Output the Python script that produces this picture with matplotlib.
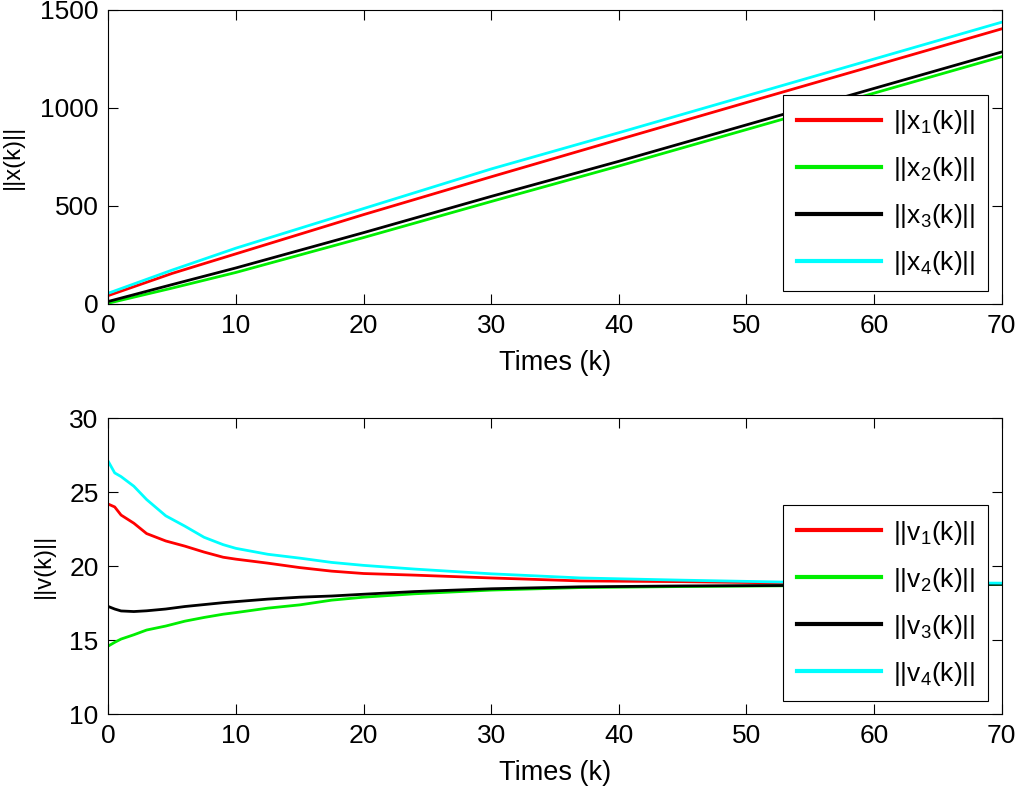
import matplotlib
matplotlib.use("Agg")
import matplotlib.pyplot as plt

plt.rcParams['font.family'] = ['Liberation Sans', 'DejaVu Sans']
plt.rcParams['mathtext.fontset'] = 'custom'
plt.rcParams['mathtext.rm'] = 'Liberation Sans'
plt.rcParams['mathtext.it'] = 'Liberation Sans'

# posiciones ||x_i(k)||
k_x = [0, 5, 10, 20, 30, 40, 50, 60, 70]
x1 = [42, 155, 255, 455, 648, 838, 1027, 1215, 1403]
x2 = [3, 80, 160, 338, 522, 703, 889, 1075, 1261]
x3 = [12, 98, 183, 363, 548, 727, 913, 1099, 1285]
x4 = [54, 172, 284, 486, 688, 873, 1061, 1249, 1437]

# velocidades ||v_i(k)||
k_v = [0, 0.5, 1, 2, 3, 4.5, 6, 7.5, 9, 10, 12.5, 15, 17.5, 20, 24, 30, 37, 45, 53, 60, 70]
v1 = [24.19, 24.0, 23.45, 22.9, 22.2, 21.7, 21.35, 20.95, 20.6, 20.47, 20.2, 19.9,
      19.66, 19.5, 19.39, 19.2, 19.0, 18.95, 18.86, 18.84, 18.82]
v2 = [14.6, 14.85, 15.07, 15.36, 15.68, 15.95, 16.28, 16.53, 16.75, 16.86, 17.16, 17.38,
      17.7, 17.9, 18.13, 18.38, 18.55, 18.62, 18.67, 18.72, 18.77]
v3 = [17.27, 17.1, 16.97, 16.93, 16.98, 17.1, 17.27, 17.4, 17.53, 17.6, 17.77, 17.9,
      17.98, 18.1, 18.28, 18.47, 18.6, 18.66, 18.69, 18.73, 18.77]
v4 = [27.07, 26.3, 26.05, 25.4, 24.5, 23.4, 22.7, 21.95, 21.45, 21.2, 20.8, 20.54,
      20.25, 20.05, 19.8, 19.48, 19.2, 19.05, 18.92, 18.88, 18.85]

colores = ['#ff0000', '#00ee00', '#000000', '#00ffff']
FS = 19

fig = plt.figure(figsize=(10.17, 7.86), dpi=100)
ax1 = fig.add_axes([0.1065, 0.6135, 0.8785, 0.374])
ax2 = fig.add_axes([0.1065, 0.0915, 0.8785, 0.3765])


def estilo(ax):
    ax.set_xlim(0, 70)
    ax.set_xticks(range(0, 71, 10))
    ax.tick_params(direction='in', top=True, right=True, length=7, width=0.8,
                   labelsize=FS, pad=7)
    for s in ax.spines.values():
        s.set_linewidth(0.8)
    ax.set_xlabel('Times (k)', fontsize=19.5, labelpad=9)


for serie, c, n in zip([x1, x2, x3, x4], colores, range(1, 5)):
    ax1.plot(k_x, serie, color=c, lw=2, label='||x$_%d$(k)||' % n)
ax1.set_ylim(0, 1500)
ax1.set_yticks([0, 500, 1000, 1500])
estilo(ax1)
ax1.set_ylabel('||x(k)||', fontsize=17)
ax1.yaxis.set_label_coords(-0.094, 0.5)

for serie, c, n in zip([v1, v2, v3, v4], colores, range(1, 5)):
    ax2.plot(k_v, serie, color=c, lw=2, label='||v$_%d$(k)||' % n)
ax2.set_ylim(10, 30)
ax2.set_yticks([10, 15, 20, 25, 30])
estilo(ax2)
ax2.set_ylabel('||v(k)||', fontsize=17)
ax2.yaxis.set_label_coords(-0.06, 0.5)

for ax in (ax1, ax2):
    leg = ax.legend(loc='lower right', bbox_to_anchor=(0.985, 0.045), fontsize=FS,
                    fancybox=False, edgecolor='black', framealpha=1,
                    handlelength=3.2, handletextpad=0.45, labelspacing=0.72,
                    borderpad=0.5, borderaxespad=0)
    leg.get_frame().set_linewidth(0.8)
    for l in leg.get_lines():
        l.set_linewidth(3)

fig.savefig('out.png', dpi=100)
